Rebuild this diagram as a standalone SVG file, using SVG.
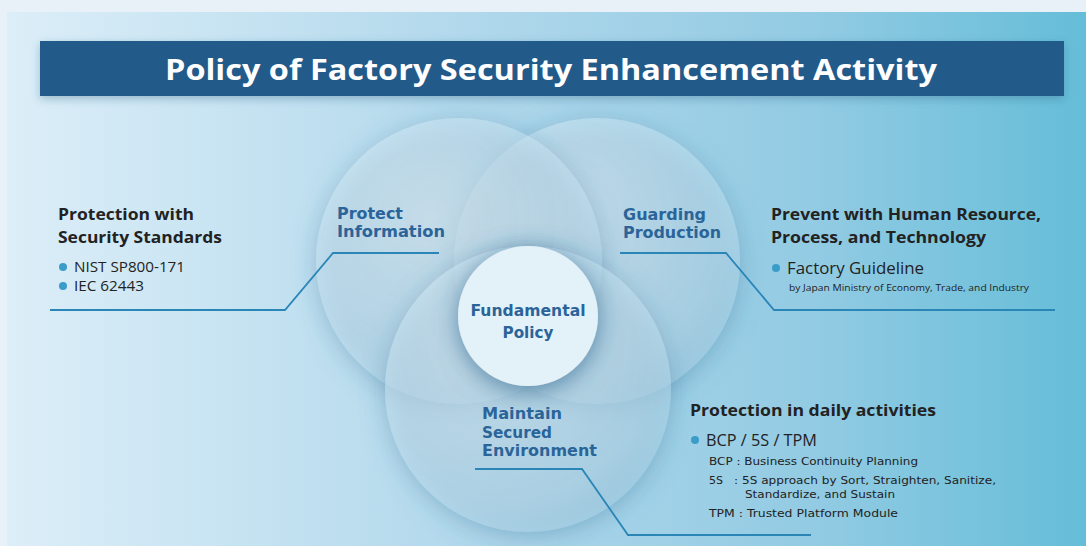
<svg xmlns="http://www.w3.org/2000/svg" width="1086" height="546" viewBox="0 0 1086 546">
<defs>
<linearGradient id="bg" x1="0" y1="0" x2="1" y2="0">
<stop offset="0" stop-color="#dceef8"/>
<stop offset="0.45" stop-color="#afd7eb"/>
<stop offset="0.75" stop-color="#92cbe3"/>
<stop offset="1" stop-color="#65bdd8"/>
</linearGradient>
<filter id="shadow" x="-30%" y="-30%" width="160%" height="160%">
<feGaussianBlur in="SourceAlpha" stdDeviation="12"/>
<feOffset dx="0" dy="5" result="b"/>
<feFlood flood-color="#2f6a92" flood-opacity="0.7"/>
<feComposite in2="b" operator="in" result="s"/>
<feMerge><feMergeNode in="s"/><feMergeNode in="SourceGraphic"/></feMerge>
</filter>
<filter id="tshadow" x="-5%" y="-30%" width="110%" height="160%">
<feGaussianBlur in="SourceAlpha" stdDeviation="4"/>
<feOffset dx="0" dy="3" result="b"/>
<feFlood flood-color="#2d5f82" flood-opacity="0.35"/>
<feComposite in2="b" operator="in" result="s"/>
<feMerge><feMergeNode in="s"/><feMergeNode in="SourceGraphic"/></feMerge>
</filter>
<radialGradient id="cg" cx="0.4" cy="0.35" r="0.7">
<stop offset="0" stop-color="#e8f6fc" stop-opacity="0.5"/>
<stop offset="0.8" stop-color="#c2e3f3" stop-opacity="0.45"/>
<stop offset="1" stop-color="#a6d2e8" stop-opacity="0.5"/>
</radialGradient>
<style>
.circ{fill:url(#cg);filter:url(#shadow);}
.lbl{font-family:"DejaVu Sans","Open Sans",sans-serif;font-weight:700;font-size:15px;fill:#2b6499;}
.head{font-family:"Open Sans","Noto Sans",sans-serif;font-weight:700;font-size:16px;fill:#222222;}
.item{font-family:"Open Sans","Noto Sans",sans-serif;font-size:14px;fill:#222222;}
.big{font-family:"Open Sans","Noto Sans",sans-serif;font-size:16px;fill:#222222;}
.small{font-family:"DejaVu Sans","Open Sans",sans-serif;font-size:11px;fill:#222222;}
.tiny{font-family:"Open Sans","Noto Sans",sans-serif;font-size:9.5px;fill:#222222;}
.lead{fill:none;stroke:#2b86b8;stroke-width:1.8;}
.dot{fill:#3a9cc8;}
</style>
</defs>

<rect x="0" y="0" width="1086" height="546" fill="#e8f0f8"/>
<rect x="7" y="12" width="1079" height="534" fill="url(#bg)"/>

<g id="title">
<rect x="40" y="41" width="1024" height="55" fill="#245a8a" filter="url(#tshadow)"/>
<text x="551" y="80" text-anchor="middle" font-family="Open Sans, Noto Sans, sans-serif" font-weight="700" font-size="29" fill="#ffffff" textLength="772" lengthAdjust="spacingAndGlyphs">Policy of Factory Security Enhancement Activity</text>
</g>

<g id="circle-guarding"><circle class="circ" cx="597" cy="261" r="143"/></g>
<g id="circle-protect"><circle class="circ" cx="459" cy="261" r="143"/></g>
<g id="circle-maintain"><circle class="circ" cx="528" cy="389" r="143"/></g>

<g id="node-fundamental">
<circle cx="528" cy="316" r="70" fill="#e3f1f9" filter="url(#shadow)"/>
<text class="lbl" x="528" y="316" text-anchor="middle" fill="#1e5790" textLength="115" lengthAdjust="spacingAndGlyphs">Fundamental</text>
<text class="lbl" x="528" y="338" text-anchor="middle" fill="#1e5790" textLength="51" lengthAdjust="spacingAndGlyphs">Policy</text>
</g>

<g id="node-protect">
<text class="lbl" x="337" y="219" textLength="66" lengthAdjust="spacingAndGlyphs">Protect</text>
<text class="lbl" x="337" y="237" textLength="108" lengthAdjust="spacingAndGlyphs">Information</text>
</g>

<g id="node-guarding">
<text class="lbl" x="623" y="220" textLength="83" lengthAdjust="spacingAndGlyphs">Guarding</text>
<text class="lbl" x="623" y="238" textLength="98" lengthAdjust="spacingAndGlyphs">Production</text>
</g>

<g id="node-maintain">
<text class="lbl" x="482" y="419" textLength="80" lengthAdjust="spacingAndGlyphs">Maintain</text>
<text class="lbl" x="482" y="438" textLength="70" lengthAdjust="spacingAndGlyphs">Secured</text>
<text class="lbl" x="482" y="456" textLength="115" lengthAdjust="spacingAndGlyphs">Environment</text>
</g>

<g id="connectors">
<polyline class="lead" points="439,253 333,253 285,310 50,310"/>
<polyline class="lead" points="620,253 726,253 774,310 1055,310"/>
<polyline class="lead" points="475,469 582,469 628,535 811,535"/>
</g>

<g id="note-standards">
<text class="head" x="58" y="220" textLength="136" lengthAdjust="spacingAndGlyphs">Protection with</text>
<text class="head" x="58" y="243" textLength="164" lengthAdjust="spacingAndGlyphs">Security Standards</text>
<circle class="dot" cx="63" cy="267" r="4"/>
<text class="item" x="74" y="272" textLength="111" lengthAdjust="spacingAndGlyphs">NIST SP800-171</text>
<circle class="dot" cx="63" cy="286" r="4"/>
<text class="item" x="74" y="291" textLength="70" lengthAdjust="spacingAndGlyphs">IEC 62443</text>
</g>

<g id="note-prevent">
<text class="head" x="771" y="220" textLength="270" lengthAdjust="spacingAndGlyphs">Prevent with Human Resource,</text>
<text class="head" x="771" y="243" textLength="215" lengthAdjust="spacingAndGlyphs">Process, and Technology</text>
<circle class="dot" cx="776" cy="268" r="4"/>
<text class="big" x="787" y="274" textLength="137" lengthAdjust="spacingAndGlyphs">Factory Guideline</text>
<text class="tiny" x="789" y="291" textLength="240" lengthAdjust="spacingAndGlyphs">by Japan Ministry of Economy, Trade, and Industry</text>
</g>

<g id="note-daily">
<text class="head" x="690" y="416" textLength="246" lengthAdjust="spacingAndGlyphs">Protection in daily activities</text>
<circle class="dot" cx="695" cy="440" r="4"/>
<text class="big" x="706" y="446" textLength="111" lengthAdjust="spacingAndGlyphs">BCP / 5S / TPM</text>
<text class="small" x="709" y="465" textLength="209" lengthAdjust="spacingAndGlyphs">BCP : Business Continuity Planning</text>
<text class="small" x="709" y="484" textLength="14" lengthAdjust="spacingAndGlyphs">5S</text>
<text class="small" x="734" y="484" textLength="262" lengthAdjust="spacingAndGlyphs">: 5S approach by Sort, Straighten, Sanitize,</text>
<text class="small" x="745" y="498" textLength="150" lengthAdjust="spacingAndGlyphs">Standardize, and Sustain</text>
<text class="small" x="709" y="517" textLength="189" lengthAdjust="spacingAndGlyphs">TPM : Trusted Platform Module</text>
</g>
</svg>
